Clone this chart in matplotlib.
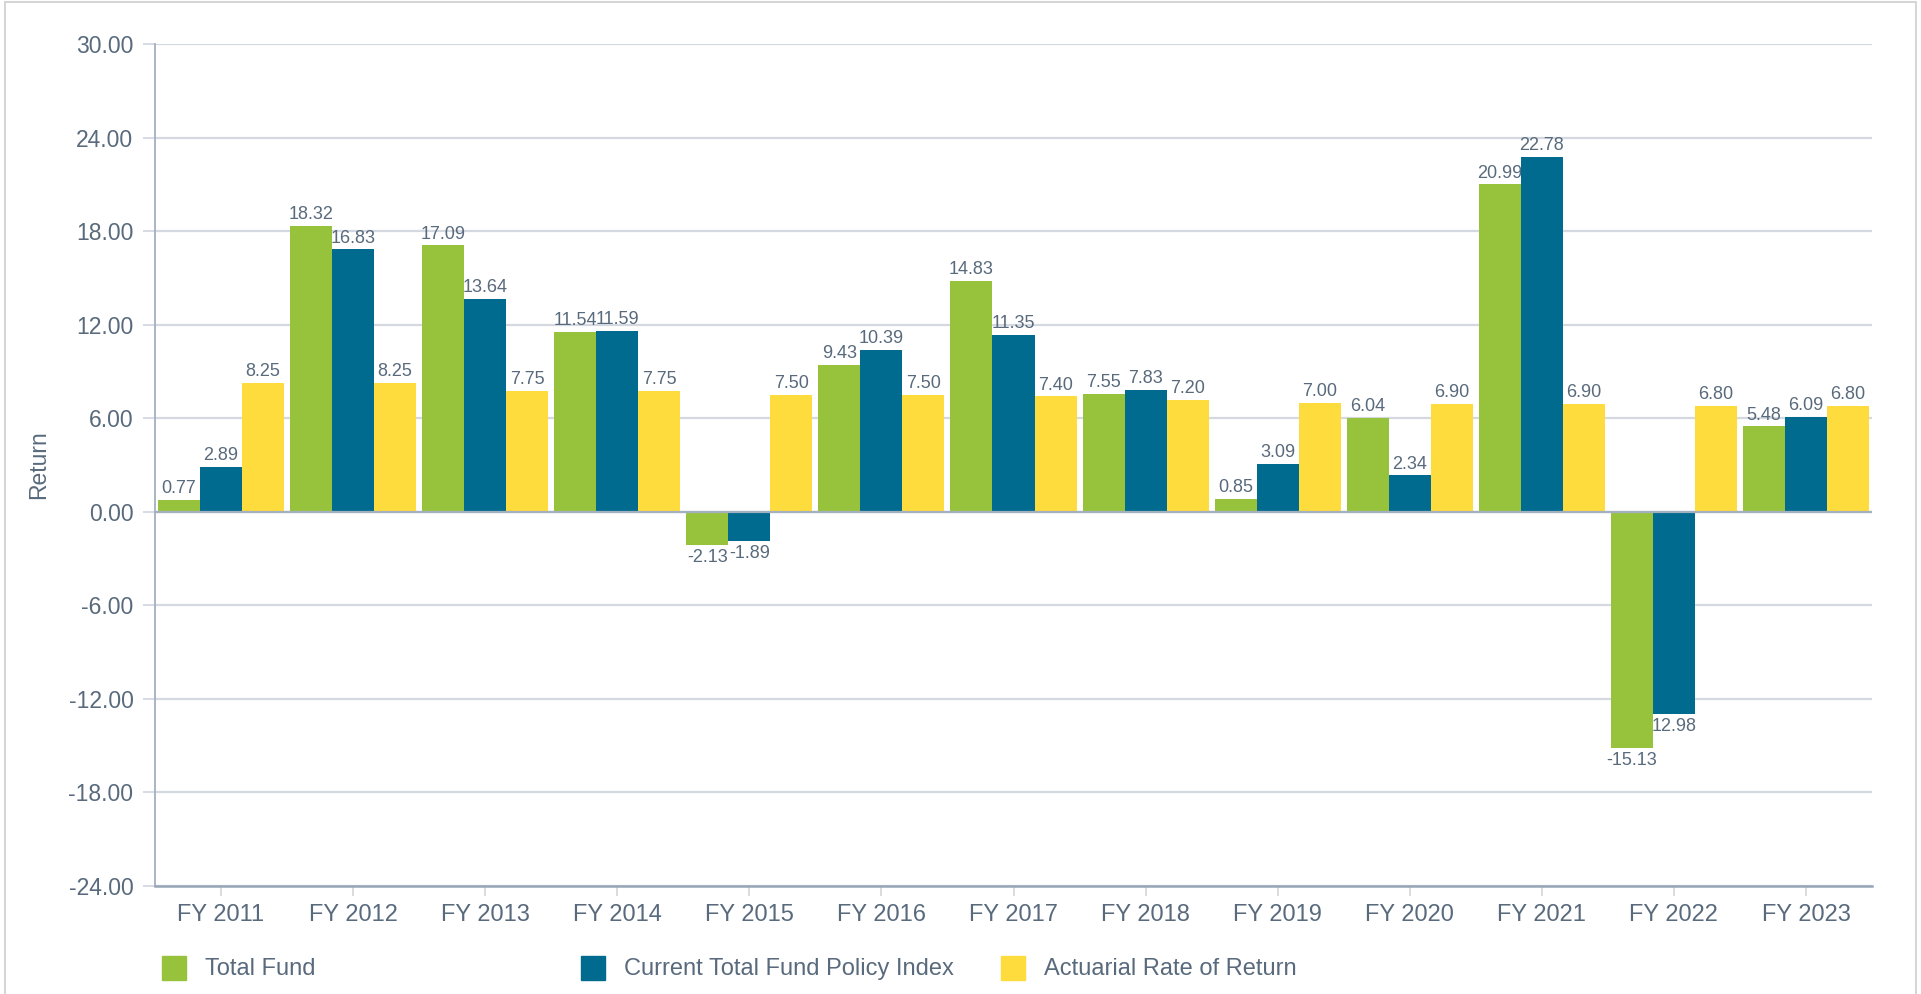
import matplotlib.pyplot as plt
from matplotlib.patches import Rectangle
import numpy as np

plt.rcParams['font.family'] = ['Liberation Sans', 'DejaVu Sans']

years = ['FY 2011', 'FY 2012', 'FY 2013', 'FY 2014', 'FY 2015', 'FY 2016', 'FY 2017',
         'FY 2018', 'FY 2019', 'FY 2020', 'FY 2021', 'FY 2022', 'FY 2023']
total_fund = [0.77, 18.32, 17.09, 11.54, -2.13, 9.43, 14.83, 7.55, 0.85, 6.04, 20.99, -15.13, 5.48]
policy_index = [2.89, 16.83, 13.64, 11.59, -1.89, 10.39, 11.35, 7.83, 3.09, 2.34, 22.78, -12.98, 6.09]
actuarial = [8.25, 8.25, 7.75, 7.75, 7.50, 7.50, 7.40, 7.20, 7.00, 6.90, 6.90, 6.80, 6.80]
series_names = ['Total Fund', 'Current Total Fund Policy Index', 'Actuarial Rate of Return']

colors = ['#97c33c', '#006b8f', '#fedc3d']
TEXT = '#586a7c'
GRID = '#d3d8e1'
AXIS = '#a3b0bf'

fig = plt.figure(figsize=(19.21, 9.94), dpi=100)
ax = fig.add_axes([155 / 1921, 1 - 886 / 994, (1872 - 155) / 1921, (886 - 44) / 994])

x = np.arange(len(years))
w = 0.318
for i, (vals, col) in enumerate(zip([total_fund, policy_index, actuarial], colors)):
    pos = x + (i - 1) * w
    ax.bar(pos, vals, width=w, color=col, zorder=3 + 2 * i)
    labels = [f'{v:.2f}' for v in vals]
    if i == 1:
        labels[11] = '12.98'  # minus sign not shown in source
    for px, v, lab in zip(pos, vals, labels):
        if v >= 0:
            ax.annotate(lab, (px, v), xytext=(0, 2), textcoords='offset points',
                        ha='center', va='bottom', fontsize=13, color=TEXT, zorder=4 + 2 * i)
        else:
            ax.annotate(lab, (px, v), xytext=(0, -3), textcoords='offset points',
                        ha='center', va='top', fontsize=13, color=TEXT, zorder=4 + 2 * i)

ax.set_xlim(-0.5, len(years) - 0.5)
ax.set_ylim(-24, 30)
yt = np.arange(-24, 31, 6)
ax.set_yticks(yt)
ax.set_yticklabels([f'{v:.2f}' for v in yt])
ax.set_xticks(x)
ax.set_xticklabels(years)

ax.grid(axis='y', color=GRID, lw=1.6, zorder=0)
ax.axhline(0, color=AXIS, lw=1.6, zorder=9)
for s in ['top', 'right']:
    ax.spines[s].set_visible(False)
ax.spines['left'].set_color(AXIS)
ax.spines['left'].set_linewidth(1.3)
ax.spines['bottom'].set_color('#97a6b7')
ax.spines['bottom'].set_linewidth(1.8)
ax.tick_params(axis='y', colors=GRID, labelcolor=TEXT, labelsize=16.5, length=8.5, width=1.3, pad=7)
ax.tick_params(axis='x', colors='#d9d9d9', labelcolor=TEXT, labelsize=17, length=7, width=1.3, pad=6)
ax.set_ylabel('Return', fontsize=16.5, color=TEXT)
ax.yaxis.set_label_coords(-0.061, 0.5)

# legend
leg_x = [162, 581, 1001]
for lx, name, col in zip(leg_x, series_names, colors):
    fig.patches.append(Rectangle((lx / 1921, 1 - 980 / 994), 24 / 1921, 24 / 994,
                                 transform=fig.transFigure, color=col))
    fig.text((lx + 43) / 1921, 1 - 969 / 994, name, fontsize=17, color=TEXT,
             ha='left', va='center')

# outer frame
fig.patches.append(Rectangle((5 / 1921, -0.01), 1911 / 1921, 1.01 - 2 / 994,
                             transform=fig.transFigure, fill=False,
                             edgecolor='#d6d6d6', lw=1.5))

fig.savefig('out.png', dpi=100)
